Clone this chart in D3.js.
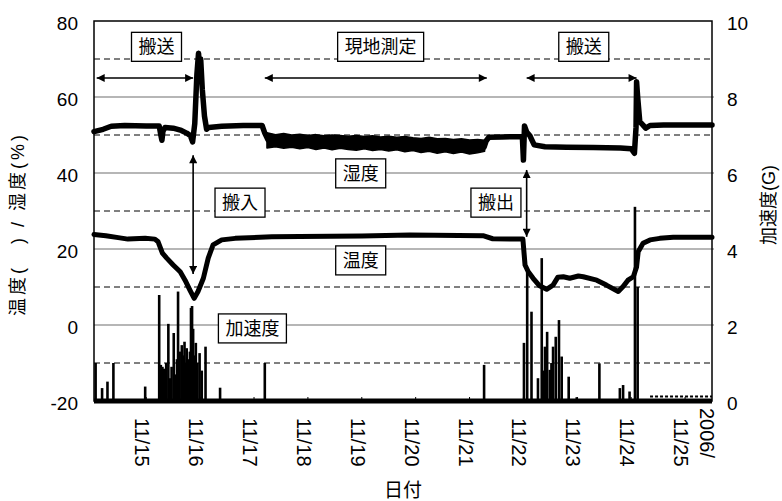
<!DOCTYPE html>
<html>
<head>
<meta charset="utf-8">
<script src="https://cdn.jsdelivr.net/npm/d3@7"></script>
<style>
  html, body { margin: 0; padding: 0; background: #fff; }
  svg { display: block; }
  text { font-family: "Liberation Sans", Arial, "Noto Sans CJK JP", sans-serif; fill: #000; }
  .jp { font-family: "Noto Sans CJK JP", sans-serif; }
</style>
</head>
<body>
<svg id="chart" width="782" height="501"></svg>
<script>
// ---- Axis ticks (day of November 2006) ----
const dayTicks = [15, 16, 17, 18, 19, 20, 21, 22, 23, 24, 25];
const dayTickLabels = ["11/15", "11/16", "11/17", "11/18", "11/19", "11/20", "11/21", "11/22", "11/23", "11/24", "11/25"];
const yearLabel = "2006/";
const leftTicks = [80, 60, 40, 20, 0, -20];
const rightTicks = [10, 8, 6, 4, 2, 0];
const solidGrid = [60, 40, 20, 0];
const dashedGrid = [70, 50, 30, 10, -10];

// ---- Humidity (%) : [day, value] ----
const humidity = [
  [14.03, 50.9], [14.2, 51.5], [14.35, 52.3], [14.6, 52.5], [15.0, 52.4], [15.24, 52.4],
  [15.27, 50.0], [15.29, 48.6], [15.31, 51.0], [15.35, 52.0], [15.5, 51.8], [15.65, 51.2],
  [15.75, 50.5], [15.82, 49.8], [15.86, 48.2], [15.9, 53.0], [15.94, 66.0], [15.97, 71.5],
  [15.99, 68.0], [16.01, 70.0], [16.04, 62.0], [16.08, 55.0], [16.12, 51.5], [16.16, 52.0],
  [16.4, 52.3], [16.8, 52.5], [17.15, 52.5], [17.2, 50.5], [17.26, 48.7], [17.5, 48.6],
  [18.0, 48.3], [18.5, 48.1], [19.0, 47.9], [19.5, 47.7], [20.0, 47.4], [20.5, 47.2],
  [21.0, 46.9], [21.27, 46.8], [21.31, 48.5], [21.36, 49.4], [21.6, 49.5], [21.98, 49.6],
  [22.0, 43.4], [22.02, 52.4], [22.06, 50.8], [22.12, 49.8], [22.2, 47.4], [22.4, 46.9],
  [22.8, 46.8], [23.3, 46.7], [23.8, 46.6], [24.0, 46.4], [24.06, 45.2], [24.09, 52.0],
  [24.1, 64.0], [24.12, 60.0], [24.16, 53.5], [24.22, 52.6], [24.27, 51.8], [24.35, 52.5],
  [24.6, 52.6], [25.5, 52.6]
];
// Humidity scatter range during on-site measurement
const humidityBandDays = [17.24, 17.4, 17.55, 17.7, 17.85, 18.0, 18.15, 18.3, 18.45, 18.6, 18.75, 18.9, 19.05, 19.2,
  19.35, 19.5, 19.65, 19.8, 19.95, 20.1, 20.25, 20.4, 20.55, 20.7, 20.85, 21.0, 21.15, 21.28];
const humidityBandHigh = [50.6, 50.1, 50.4, 50.0, 50.2, 49.9, 50.1, 49.8, 50.0, 49.9, 49.7, 49.9, 49.6, 49.8,
  49.5, 49.7, 49.4, 49.6, 49.3, 49.1, 49.4, 49.0, 49.1, 48.8, 49.0, 48.7, 48.8, 48.6];
const humidityBandLow = [46.6, 46.9, 46.5, 46.8, 46.4, 46.7, 46.2, 46.6, 46.1, 46.5, 46.2, 46.0, 46.4, 45.9,
  46.2, 45.8, 46.1, 45.6, 45.9, 45.4, 45.7, 45.2, 45.6, 45.1, 45.5, 45.0, 45.3, 45.7];

// ---- Temperature : [day, value] ----
const temperature = [
  [14.03, 23.8], [14.25, 23.5], [14.48, 23.0], [14.66, 22.6], [14.98, 22.8], [15.16, 22.6],
  [15.22, 21.9], [15.30, 18.9], [15.38, 17.6], [15.50, 15.8], [15.63, 14.0], [15.72, 11.8],
  [15.81, 9.2], [15.89, 7.0], [15.96, 8.8], [16.06, 12.3], [16.15, 17.6], [16.24, 21.1],
  [16.40, 22.4], [16.65, 22.8], [17.33, 23.2], [17.85, 23.3], [19.0, 23.4], [19.89, 23.7],
  [21.25, 23.5], [21.43, 22.7], [21.99, 22.6], [22.03, 15.8], [22.09, 14.0], [22.18, 12.3],
  [22.30, 10.3], [22.43, 9.4], [22.55, 10.5], [22.64, 12.6], [22.74, 12.7], [22.86, 12.3],
  [23.02, 12.9], [23.11, 12.7], [23.36, 11.8], [23.54, 10.5], [23.76, 8.8], [23.85, 10.1],
  [23.94, 11.8], [24.04, 12.7], [24.10, 15.3], [24.13, 19.3], [24.22, 21.5], [24.35, 22.4],
  [24.53, 22.8], [24.78, 23.1], [25.5, 23.1]
];

// ---- Acceleration (G) peaks : [day, value] ----
const acceleration = [
  [14.06, 1.0], [14.18, 0.34], [14.28, 0.51], [14.39, 1.0], [14.98, 0.38],
  [15.24, 2.79], [15.27, 0.95], [15.30, 0.9], [15.33, 0.85], [15.37, 1.0], [15.41, 2.03],
  [15.44, 0.6], [15.47, 0.9], [15.51, 1.79], [15.54, 0.7], [15.57, 1.1], [15.59, 2.88],
  [15.62, 1.3], [15.66, 1.47], [15.69, 1.2], [15.71, 1.56], [15.73, 1.0], [15.75, 1.39],
  [15.78, 1.1], [15.81, 1.3], [15.83, 2.45], [15.85, 2.5], [15.87, 1.9], [15.89, 1.2],
  [15.92, 1.53], [15.95, 1.0], [15.99, 1.26], [16.03, 0.8], [16.10, 1.43],
  [16.37, 0.35], [17.20, 1.0], [21.27, 0.95],
  [22.01, 1.53], [22.07, 3.4], [22.15, 2.35], [22.27, 0.6], [22.34, 3.76], [22.37, 0.8],
  [22.40, 1.43], [22.44, 1.82], [22.49, 0.82], [22.52, 1.0], [22.55, 1.43], [22.60, 1.69],
  [22.66, 2.13], [22.71, 1.17], [22.84, 0.64], [22.99, 0.1], [23.41, 0.99], [23.79, 0.34],
  [23.85, 0.42], [23.97, 0.25], [24.07, 5.11], [24.12, 3.0]
];
const accelerationFloor = [[14.03, 0], [25.5, 0]];
const accelerationTail = [[24.35, 0.12], [25.5, 0.12]];

// ---- Annotations ----
const periodArrows = [[14.08, 15.87], [17.20, 21.32], [22.06, 24.10]];
const periodLabels = [["搬送", 15.19], ["現地測定", 19.35], ["搬送", 23.12]];
const moveArrows = [[15.87, 44.7, 13.4], [22.06, 40.8, 23.2]];
const textBoxes = [["湿度", 18.98, 39.9], ["温度", 18.98, 17.0], ["搬入", 16.74, 32.2], ["搬出", 21.49, 32.2], ["加速度", 16.97, -0.9]];

// ---- Layout ----
const plot = { left: 94, right: 712, top: 21, bottom: 401 };

const x = d3.scaleLinear().domain([14.03, 25.5]).range([plot.left, plot.right]);
const yL = d3.scaleLinear().domain([-20, 80]).range([plot.bottom, plot.top]);
const yR = d3.scaleLinear().domain([0, 10]).range([plot.bottom, plot.top]);

const svg = d3.select("#chart");

const defs = svg.append("defs");
defs.append("marker")
  .attr("id", "head")
  .attr("viewBox", "0 0 10 10")
  .attr("refX", 10).attr("refY", 5)
  .attr("markerWidth", 10).attr("markerHeight", 8)
  .attr("markerUnits", "userSpaceOnUse")
  .attr("orient", "auto-start-reverse")
  .append("path").attr("d", "M0,0L10,5L0,10Z").attr("fill", "#000");

// gridlines
svg.append("g").selectAll("line").data(solidGrid).join("line")
  .attr("x1", plot.left).attr("x2", plot.right + 2)
  .attr("y1", d => yL(d)).attr("y2", d => yL(d))
  .attr("stroke", "#6e6e6e").attr("stroke-width", 1.2);
svg.append("g").selectAll("line").data(dashedGrid).join("line")
  .attr("x1", plot.left).attr("x2", plot.right)
  .attr("y1", d => yL(d)).attr("y2", d => yL(d))
  .attr("stroke", "#000").attr("stroke-width", 1).attr("stroke-dasharray", "6,4");

// x ticks (inside)
svg.append("g").selectAll("line").data(dayTicks).join("line")
  .attr("x1", d => x(d)).attr("x2", d => x(d))
  .attr("y1", plot.bottom).attr("y2", plot.bottom - 4)
  .attr("stroke", "#000").attr("stroke-width", 1);

// acceleration (right axis)
const accLine = d3.line().x(d => x(d[0])).y(d => yR(d[1]));
svg.append("g").selectAll("line").data(acceleration).join("line")
  .attr("x1", d => x(d[0])).attr("x2", d => x(d[0]))
  .attr("y1", yR(0)).attr("y2", d => yR(d[1]))
  .attr("stroke", "#000").attr("stroke-width", 2.6);
svg.append("path").attr("d", accLine(accelerationFloor))
  .attr("fill", "none").attr("stroke", "#000").attr("stroke-width", 5);
svg.append("path").attr("d", accLine(accelerationTail))
  .attr("fill", "none").attr("stroke", "#000").attr("stroke-width", 2).attr("stroke-dasharray", "3,2");

// temperature
const lineL = d3.line().x(d => x(d[0])).y(d => yL(d[1]));
svg.append("path").attr("d", lineL(temperature))
  .attr("fill", "none").attr("stroke", "#000").attr("stroke-width", 5)
  .attr("stroke-linejoin", "round").attr("stroke-linecap", "round");

// humidity scatter band + line
const band = d3.area()
  .x((d, i) => x(humidityBandDays[i]))
  .y0((d, i) => yL(humidityBandLow[i]))
  .y1((d, i) => yL(humidityBandHigh[i]));
svg.append("path").attr("d", band(humidityBandDays))
  .attr("fill", "#000").attr("stroke", "#000").attr("stroke-width", 1.5).attr("stroke-linejoin", "round");
svg.append("path").attr("d", lineL(humidity))
  .attr("fill", "none").attr("stroke", "#000").attr("stroke-width", 5.5)
  .attr("stroke-linejoin", "round").attr("stroke-linecap", "round");

// plot frame
svg.append("rect")
  .attr("x", plot.left).attr("y", plot.top)
  .attr("width", plot.right - plot.left).attr("height", plot.bottom - plot.top)
  .attr("fill", "none").attr("stroke", "#000").attr("stroke-width", 1.5);

// period arrows and move arrows
const arrowY = yL(65);
svg.append("g").selectAll("line").data(periodArrows).join("line")
  .attr("x1", d => x(d[0])).attr("x2", d => x(d[1]))
  .attr("y1", arrowY).attr("y2", arrowY)
  .attr("stroke", "#000").attr("stroke-width", 1.6)
  .attr("marker-start", "url(#head)").attr("marker-end", "url(#head)");
svg.append("g").selectAll("line").data(moveArrows).join("line")
  .attr("x1", d => x(d[0])).attr("x2", d => x(d[0]))
  .attr("y1", d => yL(d[1])).attr("y2", d => yL(d[2]))
  .attr("stroke", "#000").attr("stroke-width", 1.6)
  .attr("marker-start", "url(#head)").attr("marker-end", "url(#head)");

function labelBox(txt, cx, cy) {
  const g = svg.append("g");
  const r = g.append("rect").attr("fill", "#fff").attr("stroke", "#000").attr("stroke-width", 1.3);
  const t = g.append("text").attr("class", "jp")
    .attr("x", cx).attr("y", cy).attr("dy", "0.36em")
    .attr("text-anchor", "middle").attr("font-size", 18).text(txt);
  const w = t.node().getComputedTextLength() + 14;
  const h = 29;
  r.attr("x", cx - w / 2).attr("y", cy - h / 2).attr("width", w).attr("height", h);
}
periodLabels.forEach(d => labelBox(d[0], x(d[1]), yL(73.2)));
textBoxes.forEach(d => labelBox(d[0], x(d[1]), yL(d[2])));

// left axis labels
svg.append("g").selectAll("text").data(leftTicks).join("text")
  .attr("x", 78).attr("y", d => yL(d)).attr("dy", "0.45em")
  .attr("text-anchor", "end").attr("font-size", 19).text(d => d);
// right axis labels
svg.append("g").selectAll("text").data(rightTicks).join("text")
  .attr("x", 727).attr("y", d => yR(d)).attr("dy", "0.45em")
  .attr("text-anchor", "start").attr("font-size", 19).text(d => d);

// x axis labels (rotated)
svg.append("g").selectAll("text").data(dayTicks).join("text")
  .attr("transform", (d) => `translate(${x(d) - 4},418) rotate(90)`)
  .attr("dy", "0.35em").attr("text-anchor", "start").attr("font-size", 20)
  .text((d, i) => dayTickLabels[i]);
svg.append("text")
  .attr("transform", `translate(${plot.right - 5},408) rotate(90)`)
  .attr("dy", "0.35em").attr("text-anchor", "start").attr("font-size", 20)
  .text(yearLabel);

// axis titles
svg.append("text")
  .attr("x", 403).attr("y", 497).attr("text-anchor", "middle").attr("font-size", 19).text("日付");
svg.append("text")
  .attr("transform", "translate(18,224) rotate(-90)")
  .attr("dy", "0.35em").attr("text-anchor", "middle").attr("font-size", 18)
  .attr("letter-spacing", 3).text("温度(　) / 湿度(%)");
svg.append("text")
  .attr("transform", "translate(769,205) rotate(-90)")
  .attr("dy", "0.35em").attr("text-anchor", "middle").attr("font-size", 18).text("加速度(G)");
</script>
</body>
</html>
